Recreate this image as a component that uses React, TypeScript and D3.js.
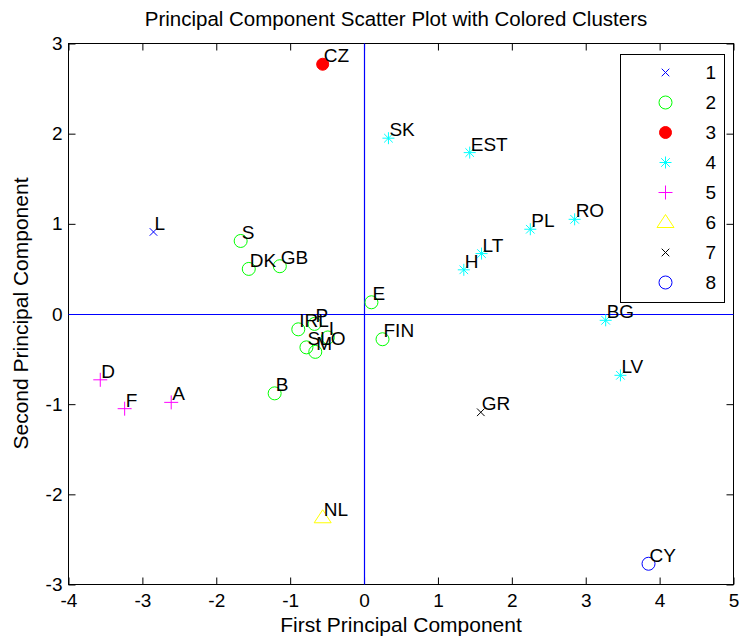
// @ts-nocheck
import React from "react";
import * as d3 from "d3";

const countries = ["L", "S", "DK", "GB", "E", "IRL", "P", "I", "SLO", "M", "FIN", "B", "CZ", "SK", "EST", "PL", "RO", "LT", "H", "BG", "LV", "D", "F", "A", "NL", "GR", "CY"];
const pc1 = [-2.85, -1.67, -1.56, -1.14, 0.10, -0.89, -0.67, -0.49, -0.78, -0.66, 0.25, -1.21, -0.56, 0.33, 1.43, 2.25, 2.85, 1.59, 1.35, 3.27, 3.47, -3.57, -3.24, -2.61, -0.56, 1.58, 3.85];
const pc2 = [0.91, 0.81, 0.50, 0.53, 0.13, -0.17, -0.11, -0.26, -0.37, -0.42, -0.28, -0.88, 2.77, 1.95, 1.79, 0.94, 1.05, 0.67, 0.49, -0.07, -0.68, -0.73, -1.05, -0.98, -2.26, -1.09, -2.77];
const clusters = [1, 2, 2, 2, 2, 2, 2, 2, 2, 2, 2, 2, 3, 4, 4, 4, 4, 4, 4, 4, 4, 5, 5, 5, 6, 7, 8];
const clusterNames = ["1", "2", "3", "4", "5", "6", "7", "8"];
const xTicks = [-4, -3, -2, -1, 0, 1, 2, 3, 4, 5];
const yTicks = [-3, -2, -1, 0, 1, 2, 3];

const clusterColors = ["#0000ff", "#00ff00", "#ff0000", "#00ffff", "#ff00ff", "#ffff00", "#000000", "#0000ff"];
const FONT = "'Liberation Sans', Arial, Helvetica, sans-serif";

// marker shapes roughly like matlab's x, o, filled o, *, +, ^, x, o
const markerPath = (c) => {
  switch (c) {
    case 1:
    case 7:
      return "M-3.8,-3.8L3.8,3.8M-3.8,3.8L3.8,-3.8";
    case 2:
    case 8:
      return d3.symbol(d3.symbolCircle, Math.PI * 6.5 * 6.5)();
    case 3:
      return d3.symbol(d3.symbolCircle, Math.PI * 6 * 6)();
    case 4:
      return "M-6,0L6,0M0,-6L0,6M-4.3,-4.3L4.3,4.3M-4.3,4.3L4.3,-4.3";
    case 5:
      return "M-7,0L7,0M0,-7L0,7";
    case 6:
      return "M0,-8L8.5,5L-8.5,5Z";
    default:
      return "";
  }
};

const plainNum = (d) => String(d); // keep ascii hyphen minus like matlab

const ScatterPlot = () => {
  const svgRef = React.useRef(null);
  const width = 742;
  const height = 643;
  const margin = { top: 43, right: 9, bottom: 59, left: 68 };
  const innerW = width - margin.left - margin.right;
  const innerH = height - margin.top - margin.bottom;

  React.useEffect(() => {
    const xScale = d3.scaleLinear().domain([-4, 5]).range([0, innerW]);
    const yScale = d3.scaleLinear().domain([-3, 3]).range([innerH, 0]);

    const svgEl = d3.select(svgRef.current);
    svgEl.selectAll("*").remove();
    svgEl.append("rect").attr("width", width).attr("height", height).attr("fill", "white");
    const svg = svgEl.append("g").attr("transform", `translate(${margin.left + 0.5},${margin.top + 0.5})`);

    // box + inward ticks on all four sides
    svg.append("rect")
      .attr("width", innerW)
      .attr("height", innerH)
      .attr("fill", "white")
      .attr("stroke", "black");

    const styleAxis = (g) => {
      g.select(".domain").remove();
      g.attr("font-size", 19).attr("font-family", FONT);
      g.selectAll("line").attr("stroke", "black");
      g.selectAll("text").attr("fill", "black");
    };

    svg.append("g")
      .attr("transform", `translate(0,${innerH})`)
      .call(d3.axisBottom(xScale).tickValues(xTicks).tickSize(-7).tickPadding(9.5).tickFormat(plainNum))
      .call(styleAxis);
    svg.append("g")
      .call(d3.axisTop(xScale).tickValues(xTicks).tickSize(-7).tickFormat(""))
      .call(styleAxis);
    svg.append("g")
      .call(d3.axisLeft(yScale).tickValues(yTicks).tickSize(-7).tickPadding(6).tickFormat(plainNum))
      .call(styleAxis);
    svg.append("g")
      .attr("transform", `translate(${innerW},0)`)
      .call(d3.axisRight(yScale).tickValues(yTicks).tickSize(-7).tickFormat(""))
      .call(styleAxis);

    // blue zero lines
    const x0 = Math.round(xScale(0));
    const y0 = Math.round(yScale(0));
    svg.append("line")
      .attr("x1", x0).attr("x2", x0)
      .attr("y1", 0).attr("y2", innerH)
      .attr("stroke", "blue")
      .attr("stroke-width", 1.2);
    svg.append("line")
      .attr("x1", 0).attr("x2", innerW)
      .attr("y1", y0).attr("y2", y0)
      .attr("stroke", "blue")
      .attr("stroke-width", 1.2);

    const idx = d3.range(countries.length);

    svg.append("g")
      .selectAll("path")
      .data(idx)
      .join("path")
      .attr("d", (i) => markerPath(clusters[i]))
      .attr("transform", (i) => `translate(${xScale(pc1[i])},${yScale(pc2[i])})`)
      .attr("fill", (i) => clusters[i] === 3 ? clusterColors[2] : "none")
      .attr("stroke", (i) => clusterColors[clusters[i] - 1])
      .attr("stroke-width", 1);

    svg.append("g")
      .selectAll("text")
      .data(idx)
      .join("text")
      .attr("x", (i) => xScale(pc1[i]) + 1)
      .attr("y", (i) => yScale(pc2[i]) - 2)
      .attr("font-size", 19)
      .attr("font-family", FONT)
      .attr("fill", "black")
      .text((i) => countries[i]);

    // legend
    const legendX = 620 - margin.left;
    const legendY = 54 - margin.top;
    const legendW = 104;
    const legendH = 248;
    const rowScale = d3.scalePoint().domain(clusterNames).range([legendY + 18, legendY + 228]);
    const legend = svg.append("g");
    legend.append("rect")
      .attr("x", legendX).attr("y", legendY)
      .attr("width", legendW).attr("height", legendH)
      .attr("fill", "white").attr("stroke", "black");
    const rows = legend.selectAll("g.row")
      .data(clusterNames)
      .join("g")
      .attr("class", "row")
      .attr("transform", (d) => `translate(0,${rowScale(d)})`);
    rows.append("path")
      .attr("transform", `translate(${legendX + 45},0)`)
      .attr("d", (d, i) => markerPath(i + 1))
      .attr("fill", (d, i) => i === 2 ? clusterColors[2] : "none")
      .attr("stroke", (d, i) => clusterColors[i]);
    rows.append("text")
      .attr("x", legendX + 85)
      .attr("dy", "0.35em")
      .attr("font-size", 19)
      .attr("font-family", FONT)
      .attr("fill", "black")
      .text((d) => d);

    // titles
    svgEl.append("text")
      .attr("x", 396).attr("y", 26)
      .attr("text-anchor", "middle")
      .attr("font-size", 20.5)
      .attr("font-family", FONT)
      .text("Principal Component Scatter Plot with Colored Clusters");
    svgEl.append("text")
      .attr("x", 401).attr("y", 632)
      .attr("text-anchor", "middle")
      .attr("font-size", 21)
      .attr("font-family", FONT)
      .text("First Principal Component");
    svgEl.append("text")
      .attr("transform", `translate(28,${margin.top + innerH / 2}) rotate(-90)`)
      .attr("text-anchor", "middle")
      .attr("font-size", 21)
      .attr("font-family", FONT)
      .text("Second Principal Component");
  }, []);

  return (
    <svg
      ref={svgRef}
      width={width}
      height={height}
      style={{ position: "absolute", left: 0, top: 0 }}
    />
  );
};

export default function App() {
  return <ScatterPlot />;
}
